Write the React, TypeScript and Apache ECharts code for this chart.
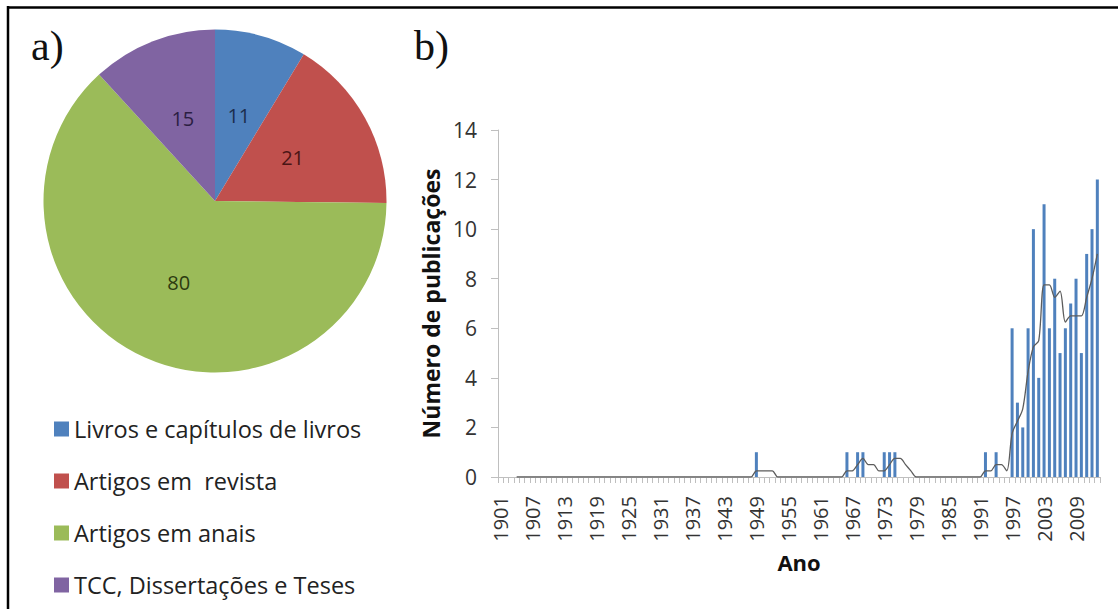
import React, { useEffect, useRef } from 'react';
import * as echarts from 'echarts';

// ---- a) pie: publication types ----
const pieCategories = [
  'Livros e capítulos de livros',
  'Artigos em  revista',
  'Artigos em anais',
  'TCC, Dissertações e Teses',
];
const pieValues = [11, 21, 80, 15];
const pieColors = ['#4F81BD', '#C0504D', '#9BBB59', '#8064A2'];
const pieLabelColors = ['#1b2d4d', '#4a1515', '#2c3a10', '#2b1e42'];

// ---- b) bars: publications per year ----
const firstYear = 1901;
const lastYear = 2013;
const pubYears = [
  1949, 1966, 1968, 1969, 1973, 1974, 1975, 1992, 1994,
  1997, 1998, 1999, 2000, 2001, 2002, 2003, 2004, 2005,
  2006, 2007, 2008, 2009, 2010, 2011, 2012, 2013,
];
const pubCounts = [
  1, 1, 1, 1, 1, 1, 1, 1, 1,
  6, 3, 2, 6, 10, 4, 11, 6, 8,
  5, 6, 7, 8, 5, 9, 10, 12,
];

// moving-average trend line (period 4); zero elsewhere from its start
const trendStartYear = 1904;
const trendYears = [
  1949, 1950, 1951, 1952,
  1966, 1967, 1968, 1969, 1970, 1971, 1972, 1973, 1974, 1975, 1976, 1977, 1978,
  1992, 1993, 1994, 1995, 1996, 1997, 1998, 1999, 2000, 2001, 2002, 2003, 2004,
  2005, 2006, 2007, 2008, 2009, 2010, 2011, 2012, 2013,
];
const trendValues = [
  0.25, 0.25, 0.25, 0.25,
  0.25, 0.25, 0.5, 0.75, 0.5, 0.5, 0.25, 0.25, 0.5, 0.75, 0.75, 0.5, 0.25,
  0.25, 0.25, 0.5, 0.5, 0.25, 1.75, 2.25, 2.75, 4.25, 5.25, 5.5, 7.75, 7.75,
  7.25, 7.5, 6.25, 6.5, 6.5, 6.5, 7.25, 8, 9,
];

const yMin = 0;
const yMax = 14;
const yStep = 2;

const FONT = '"Open Sans", "Liberation Sans", sans-serif';

export default function App() {
  const ref = useRef<HTMLDivElement>(null);

  useEffect(() => {
    document.body.style.margin = '0';
    if (!ref.current) return;
    const chart = echarts.init(ref.current, undefined, { renderer: 'svg' });

    const years: string[] = [];
    for (let y = firstYear; y <= lastYear; y++) years.push(String(y));
    const counts = years.map((y) => {
      const i = pubYears.indexOf(Number(y));
      return i >= 0 ? pubCounts[i] : 0;
    });
    const trend = years.map((y) => {
      const n = Number(y);
      if (n < trendStartYear) return null;
      const i = trendYears.indexOf(n);
      return i >= 0 ? trendValues[i] : 0;
    });

    const axisGray = '#bfbfbf';

    chart.setOption({
      animation: false,
      textStyle: { fontFamily: FONT },
      legend: {
        data: pieCategories,
        orient: 'vertical',
        left: 49,
        top: 412,
        itemWidth: 15,
        itemHeight: 15,
        itemGap: 28,
        icon: 'rect',
        selectedMode: false,
        textStyle: { fontSize: 23.5, lineHeight: 24, color: '#222', fontFamily: FONT },
      },
      grid: { left: 498, width: 602, top: 130, height: 347, containLabel: false },
      xAxis: {
        type: 'category',
        data: years,
        boundaryGap: true,
        name: 'Ano',
        nameLocation: 'middle',
        nameGap: 74,
        nameTextStyle: { fontSize: 22, fontWeight: 'bold', color: '#111', fontFamily: FONT },
        axisLine: { show: true, lineStyle: { color: axisGray, width: 1 } },
        axisTick: { show: true, interval: 0, length: 6, lineStyle: { color: axisGray } },
        axisLabel: { interval: 5, rotate: 90, fontSize: 20, color: '#333', margin: 19, fontFamily: FONT },
        splitLine: { show: false },
      },
      yAxis: {
        type: 'value',
        min: yMin,
        max: yMax,
        interval: yStep,
        name: 'Número de publicações',
        nameLocation: 'middle',
        nameRotate: 90,
        nameGap: 56,
        nameTextStyle: { fontSize: 23, fontWeight: 'bold', color: '#111', fontFamily: FONT },
        axisLine: { show: true, lineStyle: { color: axisGray, width: 1 } },
        axisTick: { show: true, length: 7, lineStyle: { color: axisGray } },
        axisLabel: { fontSize: 21, color: '#333', margin: 21, fontFamily: FONT },
        splitLine: { show: false },
      },
      series: [
        {
          type: 'pie',
          center: [215, 201],
          radius: 171.5,
          startAngle: 90,
          clockwise: true,
          silent: true,
          emphasis: { disabled: true },
          label: { show: true, position: 'inside', formatter: '{c}', fontSize: 20, fontFamily: FONT },
          labelLine: { show: false },
          data: pieCategories.map((name, i) => ({
            name,
            value: pieValues[i],
            itemStyle: { color: pieColors[i] },
            label: { color: pieLabelColors[i] },
          })),
        },
        {
          type: 'bar',
          data: counts,
          barWidth: 3,
          silent: true,
          itemStyle: { color: '#4F81BD' },
        },
        {
          type: 'line',
          data: trend,
          symbol: 'none',
          smooth: 0.3,
          silent: true,
          z: 5,
          lineStyle: { color: '#5c5c5c', width: 1.3 },
        },
      ],
      graphic: [
        { type: 'line', shape: { x1: 7, y1: 7.5, x2: 1118, y2: 7.5 }, style: { stroke: '#000', lineWidth: 2.5 } },
        { type: 'line', shape: { x1: 8, y1: 6, x2: 8, y2: 609 }, style: { stroke: '#000', lineWidth: 2.5 } },
        {
          type: 'text',
          left: 31,
          top: 25,
          style: { text: 'a)', fontSize: 42, fontFamily: '"Liberation Serif", "DejaVu Serif", serif', fill: '#111' },
        },
        {
          type: 'text',
          left: 414,
          top: 25,
          style: { text: 'b)', fontSize: 42, fontFamily: '"Liberation Serif", "DejaVu Serif", serif', fill: '#111' },
        },
      ],
    });

    return () => chart.dispose();
  }, []);

  return (
    <div
      ref={ref}
      style={{ position: 'absolute', left: 0, top: 0, width: 1118, height: 609, background: '#fff' }}
    />
  );
}
